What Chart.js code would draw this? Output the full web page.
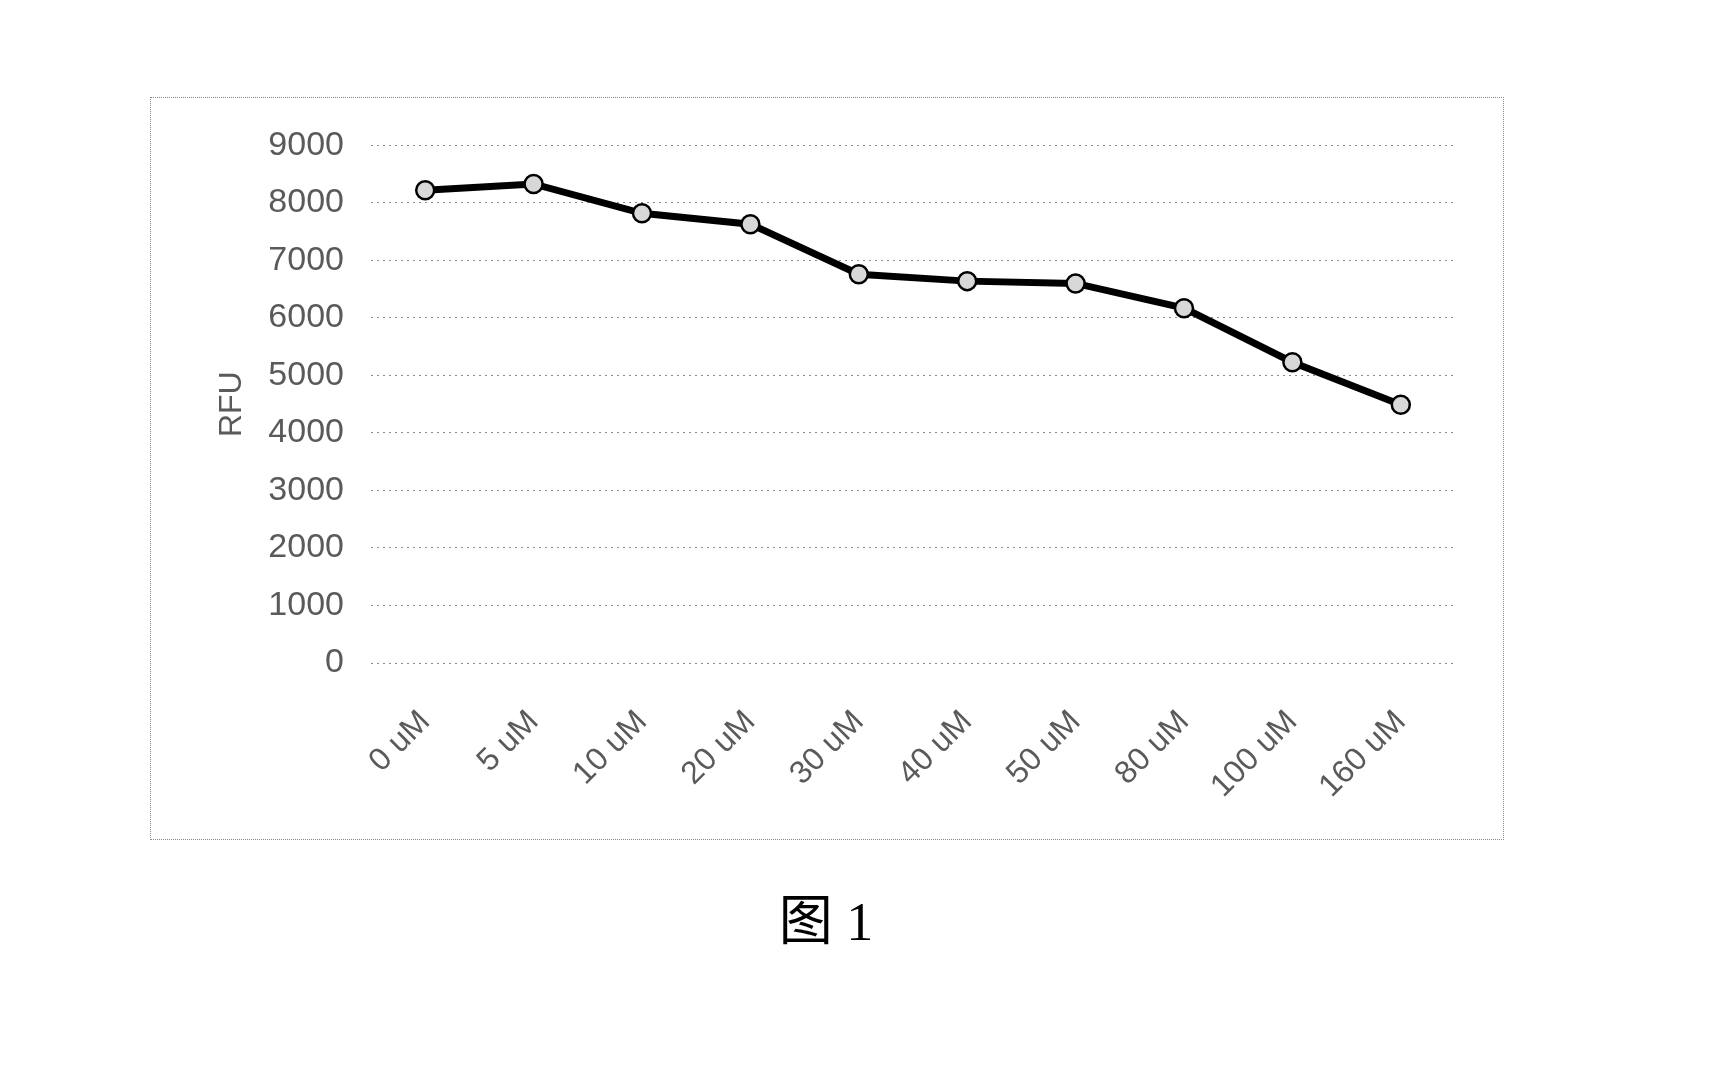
<!DOCTYPE html>
<html>
<head>
<meta charset="utf-8">
<script src="https://cdn.jsdelivr.net/npm/chart.js@4/dist/chart.umd.min.js"></script>
<style>
  body { margin: 0; background: #fff; width: 1720px; height: 1083px; position: relative; }
  .frame {
    position: absolute; left: 150px; top: 97px; width: 1352px; height: 741px;
    border: 1px dotted #8a8a8a;
  }
  .frame canvas { position: absolute; left: 0; top: 0; }
  .caption {
    position: absolute; left: 626px; width: 400px; top: 895px; text-align: center;
    font-family: "Liberation Serif", "Noto Sans CJK SC", serif; font-size: 54px; line-height: 1; color: #000;
  }
</style>
</head>
<body>
<div class="frame"><canvas id="chart" width="1352" height="741"></canvas></div>
<div class="caption">图 1</div>
<script>
// concentrations on the x axis
const categories = ['0 uM', '5 uM', '10 uM', '20 uM', '30 uM', '40 uM', '50 uM', '80 uM', '100 uM', '160 uM'];
// RFU readings
const rfuValues = [8220, 8330, 7820, 7630, 6760, 6640, 6600, 6170, 5230, 4490];
const yTicks = [0, 1000, 2000, 3000, 4000, 5000, 6000, 7000, 8000, 9000];

const labelFont = { family: '"Liberation Sans", Arial, sans-serif', size: 32 };
const labelColor = '#5a5a5a';

const ctx = document.getElementById('chart').getContext('2d');
// eslint-disable-next-line no-unused-vars
const chart = new Chart(ctx, {
  type: 'line',
  data: {
    labels: categories,
    datasets: [{
      data: rfuValues,
      borderColor: '#000',
      borderWidth: 7,
      pointRadius: 9,
      pointBorderWidth: 2.5,
      pointBorderColor: '#000',
      pointBackgroundColor: '#d8d8d8',
      tension: 0,
    }],
  },
  options: {
    responsive: false,
    animation: false,
    layout: { padding: { left: 62, right: 48, top: 45, bottom: 0 } },
    plugins: { legend: { display: false }, tooltip: { enabled: false } },
    scales: {
      x: {
        offset: true,
        grid: { display: false, drawTicks: false },
        border: { display: false },
        ticks: {
          color: labelColor, font: labelFont,
          minRotation: 45, maxRotation: 45, padding: 40, autoSkip: false,
        },
        afterFit(scale) { scale.height = 176; },
      },
      y: {
        min: 0,
        max: 9000,
        afterBuildTicks(scale) { scale.ticks = yTicks.map(v => ({ value: v })); },
        grid: { color: '#8a8a8a', lineWidth: 1, drawTicks: false },
        border: { display: false, dash: [2, 4] },
        ticks: {
          color: labelColor,
          font: { family: labelFont.family, size: 34 },
          padding: 27,
          callback: v => String(v),
        },
        title: { display: true, text: 'RFU', color: labelColor, font: labelFont, padding: 0 },
        afterFit(scale) { scale.width = 158; },
      },
    },
  },
});
</script>
</body>
</html>
